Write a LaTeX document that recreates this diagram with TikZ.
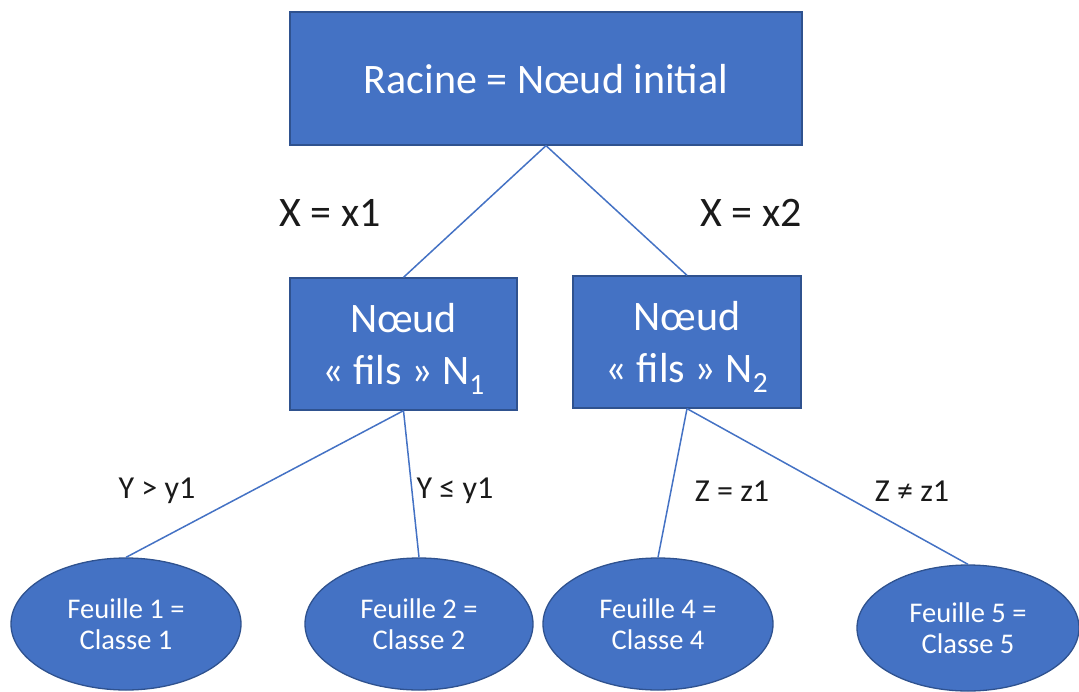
\documentclass[tikz,border=0pt]{standalone}
\usepackage{fontspec}
\setmainfont{Carlito}
\usetikzlibrary{shapes.geometric}
\definecolor{fillblue}{HTML}{4472C4}
\definecolor{edgeblue}{HTML}{2F528F}
\definecolor{lineblue}{HTML}{4472C4}
\definecolor{txt}{HTML}{1A1A1A}
\tikzset{
  boxnode/.style={draw=edgeblue, line width=1.3pt, fill=fillblue, inner sep=0pt},
  boxtxt/.style={text=white, align=center, inner sep=0pt, font=\fontsize{42}{52}\selectfont},
  leafnode/.style={ellipse, draw=edgeblue, line width=1.3pt, fill=fillblue, text=white, align=center, inner sep=0pt,
     font=\fontsize{28.5}{31.5}\selectfont},
  edgelbl/.style={text=txt, inner sep=0pt, font=\fontsize{32}{38}\selectfont},
  toplbl/.style={text=txt, inner sep=0pt, font=\fontsize{42}{50}\selectfont},
  conn/.style={draw=lineblue, line width=1.5pt}
}
\begin{document}
\begin{tikzpicture}[x=1pt,y=-1pt]
\useasboundingbox (0,0) rectangle (1079,691);
\node[boxnode, minimum width=512pt, minimum height=133pt] (root) at (546,78.5) {};
\node[boxtxt] (roott) at (546,79) {Racine = Nœud initial};
\node[boxnode, minimum width=227pt, minimum height=132pt] (n1) at (403.5,344) {};
\node[boxtxt] (n1t) at (403.5,349) {Nœud\\« fils » N\textsubscript{1}};
\node[boxnode, minimum width=228pt, minimum height=132pt] (n2) at (687,342) {};
\node[boxtxt] (n2t) at (687,347) {Nœud\\« fils » N\textsubscript{2}};
\node[leafnode, minimum width=230pt, minimum height=132pt] (l1) at (126,624) {Feuille 1 =\\Classe 1};
\node[leafnode, minimum width=228pt, minimum height=132pt] (l2) at (419,624) {Feuille 2 =\\Classe 2};
\node[leafnode, minimum width=230pt, minimum height=132pt] (l4) at (658,624) {Feuille 4 =\\Classe 4};
\node[leafnode, minimum width=222pt, minimum height=126pt] (l5) at (968,628) {Feuille 5 =\\Classe 5};
\draw[conn] (root.south) -- (n1.north);
\draw[conn] (root.south) -- (n2.north);
\draw[conn] (n1.south) -- (l1.north);
\draw[conn] (n1.south) -- (l2.north);
\draw[conn] (n2.south) -- (l4.north);
\draw[conn] (n2.south) -- (l5.north);
\node[toplbl] (lx1) at (330,213) {X = x1};
\node[toplbl] (lx2) at (751,213) {X = x2};
\node[edgelbl] (ly1) at (157,491) {Y > y1};
\node[edgelbl] (ly2) at (455,491) {Y ≤ y1};
\node[edgelbl] (lz1) at (732,491) {Z = z1};
\node[edgelbl] (lz2) at (912,491) {Z ≠ z1};
\end{tikzpicture}
\end{document}
